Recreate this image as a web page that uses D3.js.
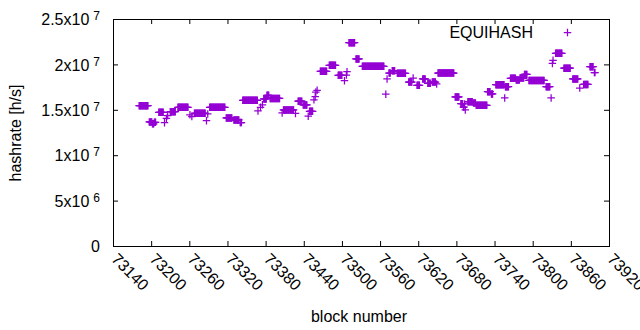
<!DOCTYPE html>
<html>
<head>
<meta charset="utf-8">
<script src="https://cdn.jsdelivr.net/npm/d3@7"></script>
<style>
  body { margin: 0; background: #fff; }
  svg { display: block; font-family: "Liberation Sans", Arial, sans-serif; }
</style>
</head>
<body>
<svg></svg>
<script>
var width      = 640,
    height     = 330,
    plotLeft   = 113,
    plotRight  = 609,
    plotTop    = 19,
    plotBottom = 246;

// runs of consecutive blocks that share one hashrate value (in 10^6 h/s)
var runStart = [73181, 73197, 73202, 73205, 73212, 73221, 73224, 73226, 73230, 73242,
                73261, 73264, 73268, 73287, 73289, 73292, 73318, 73330, 73340, 73344,
                73368, 73372, 73375, 73377, 73382, 73387, 73406, 73408, 73427, 73431,
                73439, 73447, 73449, 73456, 73458, 73459, 73461, 73466, 73480, 73494,
                73504, 73507, 73508, 73511, 73522, 73532, 73569, 73571, 73574, 73579,
                73587, 73605, 73612, 73618, 73627, 73635, 73642, 73649, 73651, 73678,
                73687, 73691, 73693, 73694, 73698, 73707, 73711, 73729, 73735, 73742,
                73756, 73757, 73765, 73774, 73780, 73787, 73794, 73821, 73829, 73831,
                73832, 73836, 73849, 73863, 73874, 73880, 73890, 73897];
var runEnd   = [73195, 73201, 73204, 73207, 73219, 73221, 73224, 73226, 73238, 73258,
                73261, 73264, 73285, 73287, 73289, 73316, 73327, 73338, 73342, 73367,
                73368, 73372, 73375, 73381, 73385, 73402, 73406, 73424, 73427, 73437,
                73445, 73447, 73454, 73456, 73458, 73459, 73461, 73476, 73490, 73500,
                73504, 73507, 73508, 73520, 73527, 73566, 73569, 73571, 73576, 73583,
                73600, 73610, 73612, 73622, 73631, 73639, 73647, 73649, 73676, 73684,
                73690, 73692, 73693, 73694, 73705, 73710, 73728, 73733, 73737, 73755,
                73756, 73762, 73773, 73779, 73786, 73791, 73818, 73827, 73829, 73831,
                73832, 73846, 73859, 73871, 73874, 73887, 73895, 73898];
var runValue = [15.45, 13.66, 13.45, 13.62, 14.72, 13.58, 14.06, 14.35, 14.79, 15.28,
                14.45, 14.25, 14.61, 13.80, 14.54, 15.28, 14.10, 13.88, 13.60, 16.05,
                14.87, 15.28, 15.55, 16.20, 16.60, 16.25, 14.65, 14.98, 14.60, 15.95,
                15.53, 14.30, 14.83, 16.10, 16.45, 16.95, 17.15, 19.24, 19.90, 18.80,
                18.20, 18.83, 19.20, 22.39, 20.60, 19.79, 16.72, 18.40, 19.05, 19.30,
                19.02, 18.06, 18.50, 17.70, 18.40, 17.92, 18.06, 17.85, 19.05, 16.41,
                15.67, 15.30, 15.65, 14.98, 15.89, 15.75, 15.50, 17.00, 16.75, 17.76,
                16.30, 17.55, 18.47, 18.28, 18.50, 18.90, 18.23, 17.55, 16.30, 20.10,
                20.45, 21.22, 19.58, 18.40, 17.40, 17.80, 19.75, 19.10];

var xTicks    = [73140, 73200, 73260, 73320, 73380, 73440, 73500, 73560, 73620, 73680, 73740, 73800, 73860, 73920];
var yTicks    = [0, 5e6, 1e7, 1.5e7, 2e7, 2.5e7];
var yTickMant = ["0", "5x10", "1x10", "1.5x10", "2x10", "2.5x10"];
var yTickExp  = ["", "6", "7", "7", "7", "7"];
var seriesName = "EQUIHASH";
var color = "#9400d3";

var x = d3.scaleLinear().domain([73140, 73920]).range([plotLeft, plotRight]);
var y = d3.scaleLinear().domain([0, 2.5e7]).range([plotBottom, plotTop]);

var svg = d3.select("svg")
  .attr("width", width)
  .attr("height", height);

// one point per block
var points = [];
runStart.forEach(function(s, i) {
  d3.range(s, runEnd[i] + 1).forEach(function(b) {
    points.push({block: b, value: runValue[i] * 1e6});
  });
});

var plus = "M-3.75,0H3.75M0,-3.75V3.75";

// axes, ticks point inward, mirrored on top and right
var xAxis = svg.append("g")
  .attr("transform", "translate(0," + plotBottom + ")")
  .call(d3.axisBottom(x).tickValues(xTicks).tickSizeInner(-5).tickSizeOuter(0).tickFormat(""));
svg.append("g")
  .attr("transform", "translate(0," + plotTop + ")")
  .call(d3.axisTop(x).tickValues(xTicks).tickSizeInner(-5).tickSizeOuter(0).tickFormat(""));
var yAxis = svg.append("g")
  .attr("transform", "translate(" + plotLeft + ",0)")
  .call(d3.axisLeft(y).tickValues(yTicks).tickSizeInner(-5).tickSizeOuter(0).tickFormat(""));
svg.append("g")
  .attr("transform", "translate(" + plotRight + ",0)")
  .call(d3.axisRight(y).tickValues(yTicks).tickSizeInner(-5).tickSizeOuter(0).tickFormat(""));

svg.selectAll(".domain").remove();
svg.selectAll(".tick text").remove();
svg.selectAll(".tick line").attr("stroke", "#000");

xAxis.selectAll(".tick").append("text")
  .attr("transform", "translate(-3,14) rotate(45)")
  .attr("text-anchor", "start")
  .attr("font-size", 16)
  .attr("fill", "#000")
  .text(function(d) { return d; });

yAxis.selectAll(".tick").each(function(d, i) {
  var t = d3.select(this).append("text")
    .attr("x", -13)
    .attr("dy", "0.35em")
    .attr("text-anchor", "end")
    .attr("font-size", 16)
    .attr("fill", "#000");
  t.append("tspan").text(yTickMant[i]);
  if (yTickExp[i]) {
    t.append("tspan")
      .attr("dx", 4)
      .attr("dy", -5)
      .attr("font-size", 12)
      .text(yTickExp[i]);
  }
});

// border
svg.append("rect")
  .attr("x", plotLeft + 0.5)
  .attr("y", plotTop + 0.5)
  .attr("width", plotRight - plotLeft)
  .attr("height", plotBottom - plotTop)
  .attr("fill", "none")
  .attr("stroke", "#000");

// points
svg.append("g").selectAll("path")
  .data(points)
  .enter()
    .append("path")
    .attr("d", plus)
    .attr("transform", function(d) { return "translate(" + x(d.block) + "," + y(d.value) + ")"; })
    .attr("fill", "none")
    .attr("stroke", color)
    .attr("stroke-width", 1.25);

// legend
svg.append("text")
  .attr("x", 533)
  .attr("y", 38)
  .attr("text-anchor", "end")
  .attr("font-size", 16)
  .text(seriesName);
svg.append("path")
  .attr("d", plus)
  .attr("transform", "translate(567.5,32.5)")
  .attr("fill", "none")
  .attr("stroke", color)
  .attr("stroke-width", 1.25);

// axis titles
svg.append("text")
  .attr("transform", "translate(21,133) rotate(-90)")
  .attr("text-anchor", "middle")
  .attr("font-size", 16)
  .text("hashrate [h/s]");
svg.append("text")
  .attr("x", 359)
  .attr("y", 322)
  .attr("text-anchor", "middle")
  .attr("font-size", 16)
  .text("block number");
</script>
</body>
</html>
